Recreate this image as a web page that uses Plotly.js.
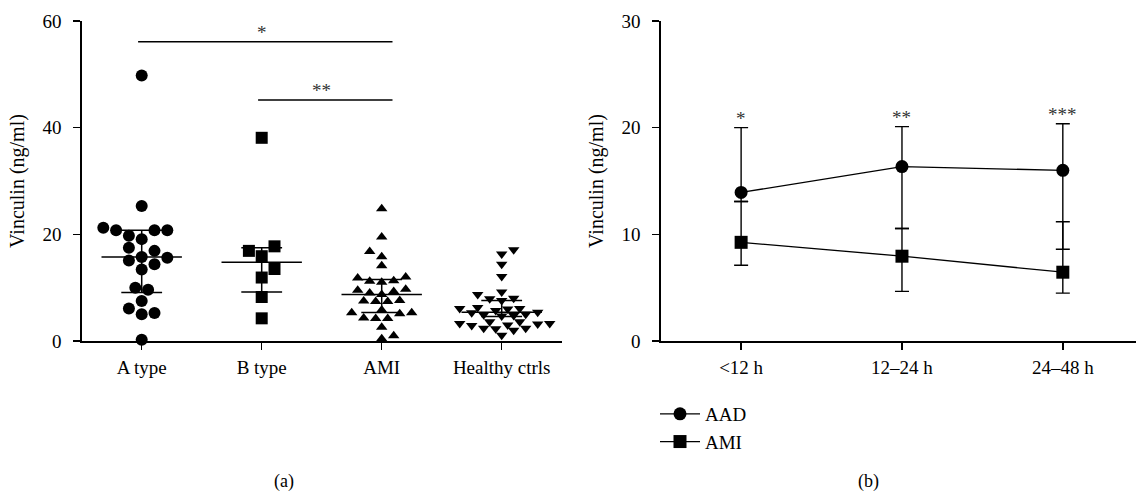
<!DOCTYPE html>
<html>
<head>
<meta charset="utf-8">
<script src="https://cdn.plot.ly/plotly-3.0.1.min.js"></script>
<style>html,body{margin:0;padding:0;background:#fff;}</style>
</head>
<body>
<div id="chart" style="width:1136px;height:491px;"></div>
<script>
// ---------- Panel (a): scatter dot plot, Vinculin by group ----------
const groups = ['A type', 'B type', 'AMI', 'Healthy ctrls'];
const aTypeValues = [49.8, 25.3, 21.25, 20.75, 20.75, 20.75, 19.75, 19.1, 17.5, 16.9, 15.75, 15.6, 15.1, 14.4, 13.4, 10.0, 9.6, 7.5, 6.1, 5.25, 5.0, 0.25];
const bTypeValues = [38.1, 17.75, 16.9, 15.9, 13.5, 11.9, 8.25, 4.25];
const amiValues = [24.8, 19.5, 16.8, 15.8, 14.1, 12.0, 11.8, 11.3, 11.2, 11.0, 9.7, 9.5, 9.3, 9.0, 8.7, 7.6, 7.5, 7.4, 7.4, 5.8, 5.3, 5.3, 5.1, 4.3, 4.2, 4.2, 2.6, 1.0, 0.4];
const healthyValues = [17.1, 16.3, 14.4, 12.1, 9.2, 8.7, 8.0, 7.9, 7.6, 6.3, 6.1, 6.1, 6.0, 5.7, 5.4, 5.3, 5.0, 4.9, 4.8, 4.7, 3.6, 3.6, 3.3, 3.3, 3.2, 3.0, 2.9, 2.4, 2.4, 2.3, 2.0, 1.1];
const groupMedian = [15.75, 14.75, 8.7, 5.4];
const groupQ1 = [9.1, 9.2, 5.35, 4.6];
const groupQ3 = [20.75, 17.5, 11.55, 7.6];
const bracketFromGroup = ['A type', 'B type'];
const bracketToGroup = ['AMI', 'AMI'];
const bracketValue = [56.1, 45.2];
const bracketLabel = ['*', '**'];
const panelAYTicks = [0, 20, 40, 60];

// ---------- Panel (b): time course, median with range ----------
const timeWindows = ['<12 h', '12\u201324 h', '24\u201348 h'];
const aadMedian = [13.93, 16.35, 16.0];
const aadLower = [13.08, 10.55, 8.6];
const aadUpper = [20.0, 20.1, 20.37];
const amiMedian = [9.25, 7.95, 6.45];
const amiLower = [7.1, 4.65, 4.49];
const amiUpper = [13.08, 10.55, 11.18];
const timeSigLabel = ['*', '**', '***'];
const panelBYTicks = [0, 10, 20, 30];

// ---------- layout geometry ----------
const W = 1136, H = 491;
const FONT = 'Liberation Serif, Times New Roman, serif';
const plotTop = 21, plotBottom = 341;
const aLeft = 81.7, aRight = 561.7;
const bLeft = 660.7, bRight = 1136;
const yDom = [(H - plotBottom) / H, (H - plotTop) / H];
const aRange = [-0.5, 3.5];
const bXRange = [-0.5, 2.455];

// beeswarm spread computed from the values (no fixed positions)
function swarm(values, pxPerY, pxPerCat, minDist, step) {
  const order = values.map((v, i) => i).sort((a, b) => values[a] - values[b]);
  const placed = [];
  const off = new Array(values.length).fill(0);
  let flip = 1;
  for (const i of order) {
    const y = values[i] * pxPerY;
    for (let k = 0; k < 400; k++) {
      const m = k === 0 ? 0 : (k % 2 === 1 ? flip * (k + 1) / 2 : -flip * k / 2);
      const x = m * step;
      let ok = true;
      for (const p of placed) {
        const dx = x - p[0], dy = y - p[1];
        if (dx * dx + dy * dy < minDist * minDist) { ok = false; break; }
      }
      if (ok) { placed.push([x, y]); off[i] = x / pxPerCat; if (m !== 0) flip = -flip; break; }
    }
  }
  return off;
}

const pxPerYa = (plotBottom - plotTop) / 60;
const pxPerCatA = (aRight - aLeft) / (aRange[1] - aRange[0]);

const groupData = [aTypeValues, bTypeValues, amiValues, healthyValues];
const symbols = ['circle', 'square', 'triangle-up', 'triangle-down'];
const sizes = [12, 12, 10, 10];
const minDists = [12, 12, 9, 8];
const steps = [6.4, 6.4, 6, 6];

const traces = [];
groupData.forEach((vals, g) => {
  const off = swarm(vals, pxPerYa, pxPerCatA, minDists[g], steps[g]);
  traces.push({
    type: 'scatter', mode: 'markers', xaxis: 'x', yaxis: 'y',
    x: vals.map((v, i) => g + off[i]), y: vals,
    marker: {symbol: symbols[g], size: sizes[g], color: '#000', line: {width: 0}},
    cliponaxis: false, showlegend: false, hoverinfo: 'y', name: groups[g]
  });
});

// median and interquartile range lines
const sx = [], sy = [];
groups.forEach((g, i) => {
  sx.push(i - 0.335, i + 0.335, null); sy.push(groupMedian[i], groupMedian[i], null);
  sx.push(i - 0.17, i + 0.17, null); sy.push(groupQ3[i], groupQ3[i], null);
  sx.push(i - 0.17, i + 0.17, null); sy.push(groupQ1[i], groupQ1[i], null);
  sx.push(i, i, null); sy.push(groupQ1[i], groupQ3[i], null);
});
traces.push({
  type: 'scatter', mode: 'lines', xaxis: 'x', yaxis: 'y', x: sx, y: sy,
  line: {color: '#000', width: 1.5}, showlegend: false, hoverinfo: 'skip'
});

// significance brackets
const bx = [], by = [];
bracketValue.forEach((v, i) => {
  bx.push(groups.indexOf(bracketFromGroup[i]) - 0.03, groups.indexOf(bracketToGroup[i]) + 0.09, null);
  by.push(v, v, null);
});
traces.push({
  type: 'scatter', mode: 'lines', xaxis: 'x', yaxis: 'y', x: bx, y: by,
  line: {color: '#000', width: 1.5}, showlegend: false, hoverinfo: 'skip'
});

// Panel (b) series
const idxB = timeWindows.map((t, i) => i);
function errTrace(name, med, lo, hi, symbol) {
  return {
    type: 'scatter', mode: 'lines+markers', xaxis: 'x2', yaxis: 'y2', name: name,
    x: idxB, y: med, legendgroup: name,
    line: {color: '#000', width: 1.3},
    marker: {symbol: symbol, size: 13, color: '#000'},
    error_y: {type: 'data', symmetric: false,
      array: hi.map((h, i) => h - med[i]), arrayminus: lo.map((l, i) => med[i] - l),
      color: '#000', thickness: 1.4, width: 7},
    cliponaxis: false
  };
}
traces.push(errTrace('AAD', aadMedian, aadLower, aadUpper, 'circle'));
traces.push(errTrace('AMI', amiMedian, amiLower, amiUpper, 'square'));

const annotations = [];
bracketValue.forEach((v, i) => {
  const mid = (groups.indexOf(bracketFromGroup[i]) + groups.indexOf(bracketToGroup[i])) / 2;
  annotations.push({xref: 'x', yref: 'y', x: mid, y: v, text: bracketLabel[i], showarrow: false,
    yanchor: 'bottom', yshift: -3, font: {family: FONT, size: 19, color: '#333'}});
});
timeWindows.forEach((t, i) => {
  const top = Math.max(aadUpper[i], amiUpper[i]);
  annotations.push({xref: 'x2', yref: 'y2', x: i, y: top, text: timeSigLabel[i], showarrow: false,
    yanchor: 'bottom', yshift: -3, font: {family: FONT, size: 19, color: '#333'}});
});
annotations.push({xref: 'paper', yref: 'paper', x: 284 / W, y: 1 - 481.7 / H, text: '(a)', showarrow: false,
  xanchor: 'center', yanchor: 'middle', font: {family: FONT, size: 18, color: '#000'}});
annotations.push({xref: 'paper', yref: 'paper', x: 868 / W, y: 1 - 481.7 / H, text: '(b)', showarrow: false,
  xanchor: 'center', yanchor: 'middle', font: {family: FONT, size: 18, color: '#000'}});

const axisCommon = {
  showgrid: false, zeroline: false, showline: true, linecolor: '#000', linewidth: 1.5,
  ticks: 'outside', ticklen: 7, tickwidth: 1.5, tickcolor: '#000',
  tickfont: {family: FONT, size: 19, color: '#000'}, automargin: false, fixedrange: true
};

const layout = {
  width: W, height: H,
  margin: {l: 0, r: 0, t: 0, b: 0, pad: 0},
  paper_bgcolor: '#fff', plot_bgcolor: '#fff',
  font: {family: FONT, color: '#000'},
  showlegend: true,
  legend: {x: 655 / W, y: 1 - 395 / H, xanchor: 'left', yanchor: 'top',
    font: {family: FONT, size: 19, color: '#000'}, bgcolor: 'rgba(0,0,0,0)',
    traceorder: 'grouped', tracegroupgap: 0, itemwidth: 40},
  xaxis: Object.assign({}, axisCommon, {domain: [aLeft / W, aRight / W], range: aRange,
    tickmode: 'array', tickvals: groups.map((g, i) => i), ticktext: groups, ticklabelstandoff: 2,
    anchor: 'y'}),
  yaxis: Object.assign({}, axisCommon, {domain: yDom, range: [0, 60], tickmode: 'array',
    tickvals: panelAYTicks, ticklabelstandoff: 8, anchor: 'x',
    title: {text: 'Vinculin (ng/ml)', font: {family: FONT, size: 20, color: '#000'}, standoff: 12}}),
  xaxis2: Object.assign({}, axisCommon, {domain: [bLeft / W, bRight / W], range: bXRange,
    tickmode: 'array', tickvals: idxB, ticktext: timeWindows, ticklabelstandoff: 2, anchor: 'y2'}),
  yaxis2: Object.assign({}, axisCommon, {domain: yDom, range: [0, 30], tickmode: 'array',
    tickvals: panelBYTicks, ticklabelstandoff: 8, anchor: 'x2',
    title: {text: 'Vinculin (ng/ml)', font: {family: FONT, size: 20, color: '#000'}, standoff: 12}}),
  annotations: annotations
};

Plotly.newPlot('chart', traces, layout, {displayModeBar: false, staticPlot: true});
</script>
</body>
</html>
